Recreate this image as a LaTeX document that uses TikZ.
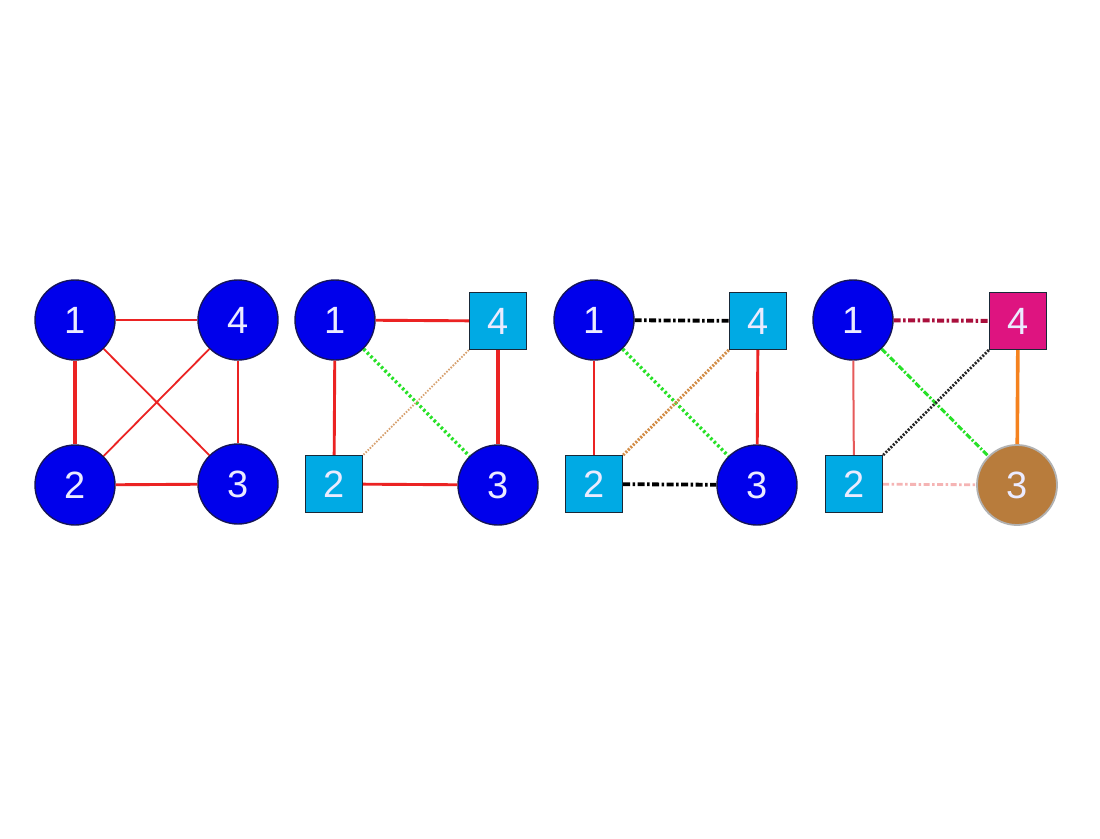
\documentclass[tikz,border=0pt]{standalone}
\usepackage{fontspec}
\setmainfont{Liberation Sans}
\definecolor{nodeblue}{RGB}{0,0,235}
\definecolor{navy}{RGB}{20,20,90}
\definecolor{sqcyan}{RGB}{0,170,228}
\definecolor{sqborder}{RGB}{25,40,55}
\definecolor{magent}{RGB}{222,20,128}
\definecolor{brownn}{RGB}{184,124,60}
\definecolor{txt}{RGB}{235,235,255}
\definecolor{redl}{RGB}{235,35,35}
\definecolor{greenl}{RGB}{40,225,40}
\definecolor{tanl}{RGB}{215,160,110}
\definecolor{orangel}{RGB}{210,140,70}
\definecolor{darkred}{RGB}{170,15,60}
\definecolor{softred}{RGB}{230,90,90}
\definecolor{orangeb}{RGB}{245,130,30}
\definecolor{pinkl}{RGB}{245,180,180}
\tikzset{
  lbl/.style={text=txt, font=\fontsize{38}{42}\selectfont, inner sep=0pt},
  cnode/.style={lbl, circle, fill=nodeblue, draw=navy, line width=1.4pt, minimum size=80pt},
  snode/.style={lbl, rectangle, fill=sqcyan, draw=sqborder, line width=1.4pt, minimum size=57pt},
  mnode/.style={lbl, rectangle, fill=magent, draw=sqborder, line width=1.4pt, minimum size=57pt},
  bnode/.style={lbl, circle, fill=brownn, draw=gray!60, line width=1.8pt, minimum size=80pt},
  redthick/.style={draw=redl, line width=3.6pt},
  redmid/.style={draw=redl, line width=2.9pt},
  redthin/.style={draw=redl, line width=1.8pt},
  greendot/.style={draw=greenl, line width=3.4pt, dash pattern=on 2.5pt off 2.5pt},
  tandot/.style={draw=tanl, line width=1.8pt, dash pattern=on 1.5pt off 1.5pt},
  orangedot/.style={draw=orangel, line width=3pt, dash pattern=on 2pt off 1.5pt},
  blackdd/.style={draw=black, line width=3.8pt, dash pattern=on 7pt off 2.5pt on 2.5pt off 2.5pt},
  darkreddd/.style={draw=darkred, line width=4pt, dash pattern=on 7pt off 2.5pt on 2.5pt off 2.5pt},
  greendash/.style={draw=greenl, line width=3pt, dash pattern=on 6pt off 2pt on 2pt off 2pt},
  blackdot/.style={draw=black!85, line width=2.8pt, dash pattern=on 2pt off 1.5pt},
  pinkdash/.style={draw=pinkl, line width=2.8pt, dash pattern=on 6pt off 2.5pt on 2.5pt off 2.5pt},
  softredl/.style={draw=softred, line width=2pt},
  orangesolid/.style={draw=orangeb, line width=3.6pt},
}
\begin{document}
\begin{tikzpicture}[x=1pt,y=-1pt]
\useasboundingbox (0,0) rectangle (1100,838);
\fill[white] (0,0) rectangle (1100,838);
% Panel 1
\node[cnode] (a1) at (75,320) {1};
\node[cnode] (a4) at (238,320) {4};
\node[cnode] (a2) at (75,485) {2};
\node[cnode] (a3) at (238,484) {3};
\path[redmid] (a1) -- (a4);
\path[redthick] (a1) -- (a2);
\path[redmid] (a4) -- (a3);
\path[redmid] (a2) -- (a3);
\path[redthin] (a1) -- (a3);
\path[redthin] (a4) -- (a2);
% Panel 2
\node[cnode] (b1) at (335,320) {1};
\node[snode] (b4) at (498,321) {4};
\node[snode] (b2) at (334,484) {2};
\node[cnode] (b3) at (498,485) {3};
\path[redmid] (b1) -- (b4);
\path[redmid] (b1) -- (b2);
\path[redthick] (b4) -- (b3);
\path[redmid] (b2) -- (b3);
\path[greendot] (b1) -- (b3);
\path[tandot] (b4) -- (b2);
% Panel 3
\node[cnode] (c1) at (594,320) {1};
\node[snode] (c4) at (758,321) {4};
\node[snode] (c2) at (594,484) {2};
\node[cnode] (c3) at (757,485) {3};
\path[blackdd] (c1) -- (c4);
\path[redmid] (c1) -- (c2);
\path[redmid] (c4) -- (c3);
\path[blackdd] (c2) -- (c3);
\path[greendot] (c1) -- (c3);
\path[orangedot] (c4) -- (c2);
% Panel 4
\node[cnode] (d1) at (853,320) {1};
\node[mnode] (d4) at (1018,321) {4};
\node[snode] (d2) at (854,484) {2};
\node[bnode] (d3) at (1017,485) {3};
\path[darkreddd] (d1) -- (d4);
\path[softredl] (d1) -- (d2);
\path[orangesolid] (d4) -- (d3);
\path[pinkdash] (d2) -- (d3);
\path[greendash] (d1) -- (d3);
\path[blackdot] (d4) -- (d2);
\end{tikzpicture}
\end{document}
